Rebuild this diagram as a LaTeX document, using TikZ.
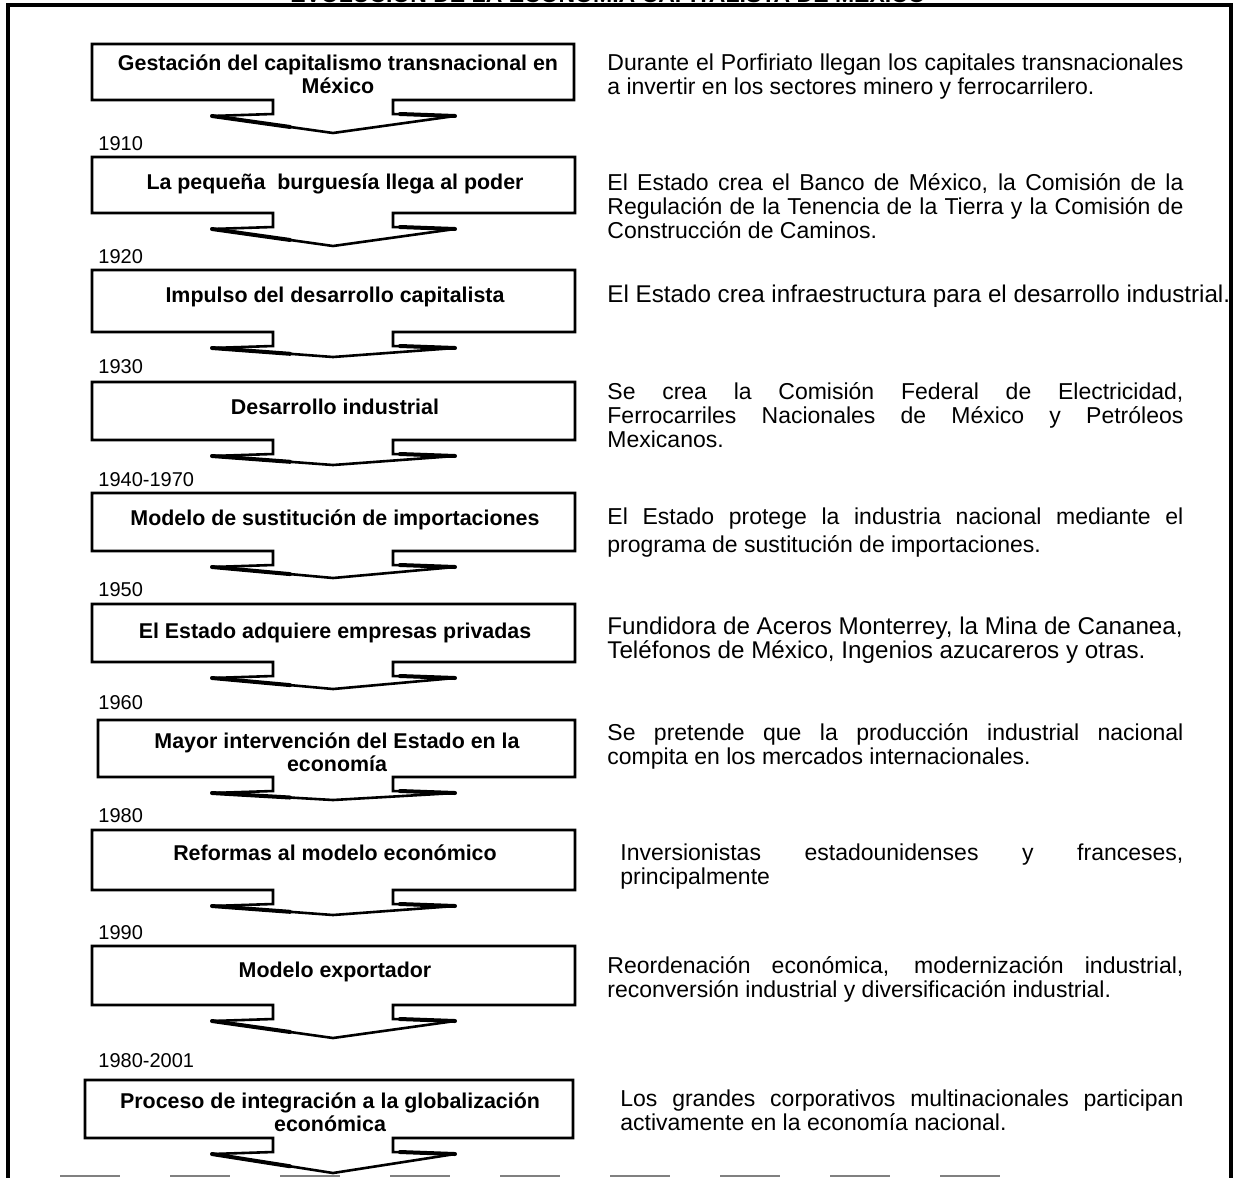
\documentclass[tikz,border=0pt]{standalone}
\usepackage{fontspec}
\setmainfont{Liberation Sans}
\newcommand\jus[2][288pt]{\hbox to #1{#2}}
\newcommand\ctr[1]{\hbox to 0pt{\hss#1\hss}}
\newcommand\callbox[5]{%
  \draw[callout] (#1,#2) -- (#3,#2) -- (#3,#4) -- (393,#4) -- (393,#4+14) -- (455,#4+16)
    -- (333,#4+#5) -- (212,#4+16) -- (273,#4+14) -- (273,#4) -- (#1,#4) -- cycle;
  \draw[wingshade] (212,#4+16) -- (290,{#4+16+(#5-16)*78/121});
  \draw[wingshade] (400,#4+14) -- (455,#4+16);}
\begin{document}
\begin{tikzpicture}[x=0.5pt,y=-0.5pt,
  callout/.style={draw=black, line width=1.3pt, line join=miter, fill=white},
  wingshade/.style={draw=black, line width=2pt, line cap=round},
  boxtext/.style={font=\fontsize{10.7}{11.5}\selectfont\bfseries, anchor=base, inner sep=0pt},
  yeartext/.style={font=\fontsize{10}{12}\selectfont, anchor=base west, inner sep=0pt},
  desctext/.style={font=\fontsize{11.5}{12.2}\selectfont, anchor=base west, inner sep=0pt},
  desclarge/.style={desctext, font=\fontsize{12.1}{12.2}\selectfont},
  frameline/.style={line width=1.6pt, line cap=rect}]
\useasboundingbox (0,0) rectangle (1234,1177);
\clip (0,0) rectangle (1234,1177);
\fill[white] (0,0) rectangle (1234,1177);
% title (cut off at top)
\node[font=\fontsize{11.5}{12}\selectfont\bfseries, anchor=base, inner sep=0pt] (title) at (608,3) {EVOLUCIÓN DE LA ECONOMÍA CAPITALISTA DE MÉXICO};
% frame
\draw[frameline] (8,1180) -- (8,5) -- (1231,5) -- (1231,1180);
\draw[gray, dashed, line width=0.6pt, dash pattern=on 30pt off 25pt] (60,1176) -- (1000,1176);
% callouts
\callbox{92}{44}{574}{100}{33}
\callbox{92}{157}{575}{213}{33}
\callbox{92}{270}{575}{332}{25}
\callbox{92}{382}{575}{440}{25}
\callbox{92}{493}{575}{551}{27}
\callbox{92}{604}{575}{662}{27}
\callbox{98}{720}{575}{777}{23}
\callbox{92}{830}{575}{890}{25}
\callbox{92}{946}{575}{1005}{33}
\callbox{85}{1080}{573}{1138}{35}
% box texts
\node[boxtext] (b1) at (338,71) {\vtop{\ctr{Gestación del capitalismo transnacional en}\ctr{México}}};
\node[boxtext] (b2) at (335,189) {La pequeña~ burguesía llega al poder};
\node[boxtext] (b3) at (335,302) {Impulso del desarrollo capitalista};
\node[boxtext] (b4) at (335,414) {Desarrollo industrial};
\node[boxtext] (b5) at (335,525) {Modelo de sustitución de importaciones};
\node[boxtext] (b6) at (335,638) {El Estado adquiere empresas privadas};
\node[boxtext] (b7) at (337,748) {\vtop{\ctr{Mayor intervención del Estado en la}\ctr{economía}}};
\node[boxtext] (b8) at (335,860) {Reformas al modelo económico};
\node[boxtext] (b9) at (335,977) {Modelo exportador};
\node[boxtext] (b10) at (330,1108) {\vtop{\ctr{Proceso de integración a la globalización}\ctr{económica}}};
% years
\node[yeartext] (y1) at (98,150) {1910};
\node[yeartext] (y2) at (98,263) {1920};
\node[yeartext] (y3) at (98,373) {1930};
\node[yeartext] (y4) at (98,486) {1940-1970};
\node[yeartext] (y5) at (98,596) {1950};
\node[yeartext] (y6) at (98,709) {1960};
\node[yeartext] (y7) at (98,822) {1980};
\node[yeartext] (y8) at (98,939) {1990};
\node[yeartext] (y9) at (98,1067) {1980-2001};
% descriptions
\node[desctext] (d1) at (607,70) {\vtop{\jus{Durante el Porfiriato llegan los capitales transnacionales}\hbox{a invertir en los sectores minero y ferrocarrilero.}}};
\node[desctext] (d2) at (607,190) {\vtop{\jus{El Estado crea el Banco de México, la Comisión de la}\jus{Regulación de la Tenencia de la Tierra y la Comisión de}\hbox{Construcción de Caminos.}}};
\node[desclarge] (d3) at (607,302) {El Estado crea infraestructura para el desarrollo industrial.};
\node[desctext] (d4) at (607,399) {\vtop{\jus{Se crea la Comisión Federal de Electricidad,}\jus{Ferrocarriles Nacionales de México y Petróleos}\hbox{Mexicanos.}}};
\node[desctext] (d5) at (607,524) {\vtop{\jus{El Estado protege la industria nacional mediante el}\vskip2pt\hbox{programa de sustitución de importaciones.}}};
\node[desclarge] (d6) at (607,634) {\vtop{\hbox{Fundidora de Aceros Monterrey, la Mina de Cananea,}\hbox{Teléfonos de México, Ingenios azucareros y otras.}}};
\node[desctext] (d7) at (607,740) {\vtop{\jus{Se pretende que la producción industrial nacional}\hbox{compita en los mercados internacionales.}}};
\node[desctext] (d8) at (620,860) {\vtop{\jus[281.5pt]{Inversionistas estadounidenses y franceses,}\hbox{principalmente}}};
\node[desctext] (d9) at (607,973) {\vtop{\jus{Reordenación económica, modernización industrial,}\hbox{reconversión industrial y diversificación industrial.}}};
\node[desctext] (d10) at (620,1106) {\vtop{\jus[281.5pt]{Los grandes corporativos multinacionales participan}\hbox{activamente en la economía nacional.}}};
\end{tikzpicture}
\end{document}
